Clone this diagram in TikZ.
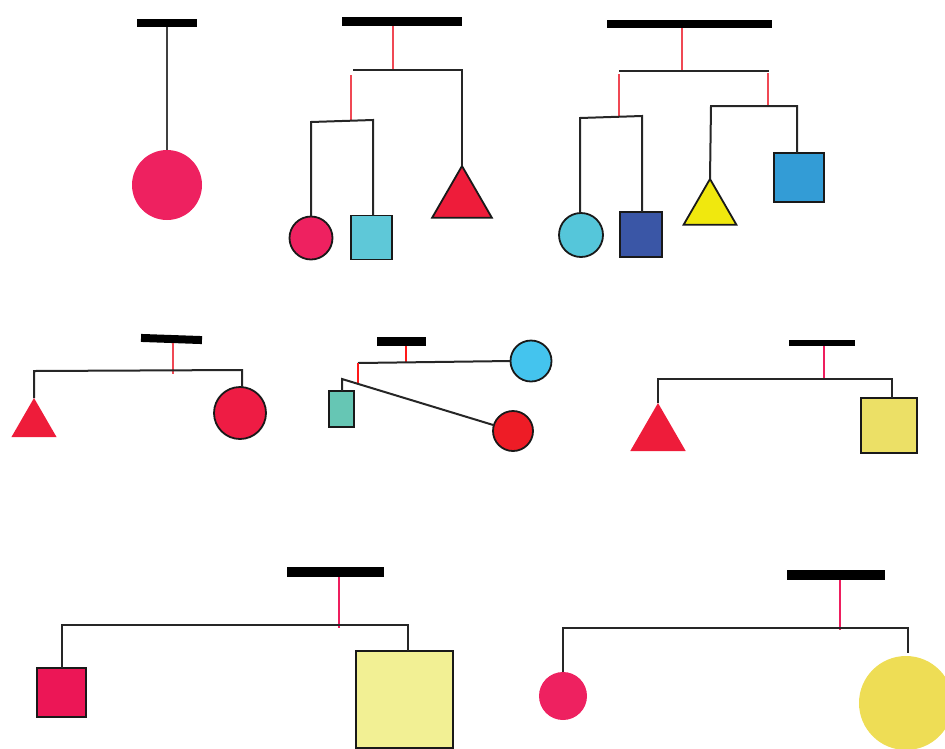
\documentclass[tikz,border=0pt]{standalone}
\usetikzlibrary{shapes.geometric}

\definecolor{pinkball}{HTML}{EE2160}
\definecolor{cyanbox}{HTML}{5EC8D8}
\definecolor{redtri}{HTML}{EE1C3A}
\definecolor{cyanball}{HTML}{55C6DA}
\definecolor{navybox}{HTML}{3A56A6}
\definecolor{yellowtri}{HTML}{F0E80E}
\definecolor{bluebox}{HTML}{339CD6}
\definecolor{redball}{HTML}{EE1C44}
\definecolor{skyball}{HTML}{44C4EE}
\definecolor{tealbox}{HTML}{66C6B4}
\definecolor{scarlet}{HTML}{EE1C26}
\definecolor{yellowbox}{HTML}{ECE066}
\definecolor{pinkbox}{HTML}{EC1656}
\definecolor{paleyellow}{HTML}{F2F094}
\definecolor{yellowball}{HTML}{EEDD55}
\definecolor{redstring}{HTML}{F04854}
\definecolor{pinkstring}{HTML}{EE1E5E}

\tikzset{
  bar/.style={fill=black, inner sep=0pt, outer sep=0pt},
  wire/.style={line width=2pt, draw=black!85},
  redwire/.style={line width=2pt, draw=redstring},
  pinkwire/.style={line width=2.8pt, draw=pinkstring},
  ball/.style={circle, inner sep=0pt, outer sep=0pt},
  box/.style={rectangle, inner sep=0pt, outer sep=0pt, draw=black!90, line width=1.8pt},
  tri/.style={regular polygon, regular polygon sides=3, inner sep=0pt,
              outer sep=0pt, anchor=corner 1},
  outline/.style={draw=black!90, line width=1.8pt},
}

\begin{document}
\begin{tikzpicture}[x=1pt, y=-1pt]
\useasboundingbox (0,0) rectangle (945,748);

% --- single ball
\node[bar, minimum width=60pt, minimum height=8pt] (b1) at (167,23) {};
\node[ball, fill=pinkball, minimum size=70pt] (c1) at (167,185) {};
\draw[wire, draw=black!75] (b1.south) -- (c1.north);

% --- two levels, three pieces
\node[bar, minimum width=120pt, minimum height=9pt] (b2) at (402,21.5) {};
\coordinate (m2top) at (393,70);
\coordinate (m2L) at (353,70);
\coordinate (m2R) at (462,70);
\node[tri, fill=redtri, outline, minimum size=69pt] (t2) at (462,166) {};
\coordinate (m2a) at (351,75);
\coordinate (s2L) at (311,122);
\coordinate (s2R) at (373,120);
\coordinate (m2b) at (351,121);
\node[ball, fill=pinkball, outline, minimum size=43pt] (c2) at (311,238) {};
\node[box, fill=cyanbox, minimum width=41pt, minimum height=44pt] (q2) at (371.5,237.5) {};
\draw[redwire] (b2.south -| m2top) -- (m2top);
\draw[wire] (m2L) -- (m2R) -- (t2.corner 1);
\draw[redwire] (m2a) -- (m2b);
\draw[wire] (c2.north) -- (s2L) -- (s2R) -- (s2R |- q2.north);

% --- two levels, four pieces
\node[bar, minimum width=165pt, minimum height=8pt] (b3) at (689.5,24) {};
\coordinate (m3top) at (682,71);
\coordinate (m3L) at (619,71);
\coordinate (m3R) at (769,71);
\coordinate (m3a) at (619,74);
\coordinate (m3b) at (619,117);
\coordinate (s3L) at (580,118);
\coordinate (s3R) at (642,116);
\node[ball, fill=cyanball, outline, minimum size=44pt] (c3) at (581,235) {};
\node[box, fill=navybox, minimum width=42pt, minimum height=45pt] (q3) at (641,234.5) {};
\coordinate (m3c) at (768,73);
\coordinate (m3d) at (768,106);
\coordinate (u3L) at (711,106);
\coordinate (u3R) at (797,106);
\node[tri, fill=yellowtri, outline, minimum size=61pt] (t3) at (710,179) {};
\node[box, fill=bluebox, minimum width=50pt, minimum height=49pt] (q4) at (799,177.5) {};
\draw[redwire] (b3.south -| m3top) -- (m3top);
\draw[wire] (m3L) -- (m3R);
\draw[redwire] (m3a) -- (m3b);
\draw[wire] (s3L |- c3.north) -- (s3L) -- (s3R) -- (s3R |- q3.north);
\draw[redwire] (m3c) -- (m3d);
\draw[wire] (t3.corner 1) -- (u3L) -- (u3R) -- (u3R |- q4.north);

% --- triangle and ball
\node[bar, minimum width=61pt, minimum height=8pt, rotate=-2] (b4) at (171.5,339) {};
\coordinate (m4top) at (173,374);
\coordinate (m4L) at (34,371);
\coordinate (m4R) at (242,370);
\node[tri, fill=redtri, minimum size=52pt] (t4) at (34,398) {};
\node[ball, fill=redball, outline, minimum size=52pt] (c4) at (240,413) {};
\draw[redwire] (m4top |- b4.south) -- (m4top);
\draw[wire] (t4.corner 1) -- (m4L) -- (m4R) -- (m4R |- c4.north);

% --- crossed arms
\node[bar, minimum width=49pt, minimum height=9pt] (b5) at (401.5,341.5) {};
\coordinate (m5top) at (406,363);
\coordinate (m5L) at (358,363);
\coordinate (m5j) at (358,384);
\coordinate (m5k) at (342,379);
\node[ball, fill=skyball, outline, minimum size=41pt] (c5a) at (531,361) {};
\node[ball, fill=scarlet, outline, minimum size=40pt] (c5b) at (513,431) {};
\node[box, fill=tealbox, minimum width=25pt, minimum height=36pt] (q5) at (341.5,409) {};
\draw[redwire, draw=red!90] (b5.south -| m5top) -- (m5top);
\draw[wire] (m5L) -- (c5a.west);
\draw[redwire, draw=red!90] (m5L) -- (m5j);
\draw[wire] (q5.north -| m5k) -- (m5k) -- (c5b);

% --- triangle and yellow square
\node[bar, minimum width=66pt, minimum height=6pt] (b6) at (822,343) {};
\coordinate (m6top) at (824,380);
\coordinate (m6L) at (658,379);
\coordinate (m6R) at (892,379);
\node[tri, fill=redtri, minimum size=64pt] (t6) at (658,403) {};
\node[box, fill=yellowbox, minimum width=56pt, minimum height=55pt] (q6) at (889,425.5) {};
\draw[pinkwire] (b6.south -| m6top) -- (m6top);
\draw[wire] (t6.corner 1) -- (m6L) -- (m6R) -- (m6R |- q6.north);

% --- small and large squares
\node[bar, minimum width=97pt, minimum height=10pt] (b7) at (335.5,572) {};
\coordinate (m7top) at (339,628);
\coordinate (m7L) at (62,625);
\coordinate (m7R) at (408,625);
\node[box, fill=pinkbox, minimum width=49pt, minimum height=49pt] (q7) at (61.5,692.5) {};
\node[box, fill=paleyellow, minimum width=97pt, minimum height=97pt] (q8) at (404.5,699.5) {};
\draw[pinkwire] (b7.south -| m7top) -- (m7top);
\draw[wire] (m7L |- q7.north) -- (m7L) -- (m7R) -- (m7R |- q8.north);

% --- small and large balls
\node[bar, minimum width=98pt, minimum height=10pt] (b8) at (836,575) {};
\coordinate (m8top) at (840,630);
\coordinate (m8L) at (563,628);
\coordinate (m8R) at (908,628);
\coordinate (m8e) at (908,653);
\node[ball, fill=pinkball, minimum size=48pt] (c8) at (563,696) {};
\node[ball, fill=yellowball, minimum size=94pt] (c9) at (906,703) {};
\draw[pinkwire] (b8.south -| m8top) -- (m8top);
\draw[wire] (c8.north) -- (m8L) -- (m8R) -- (m8e);
\end{tikzpicture}
\end{document}
